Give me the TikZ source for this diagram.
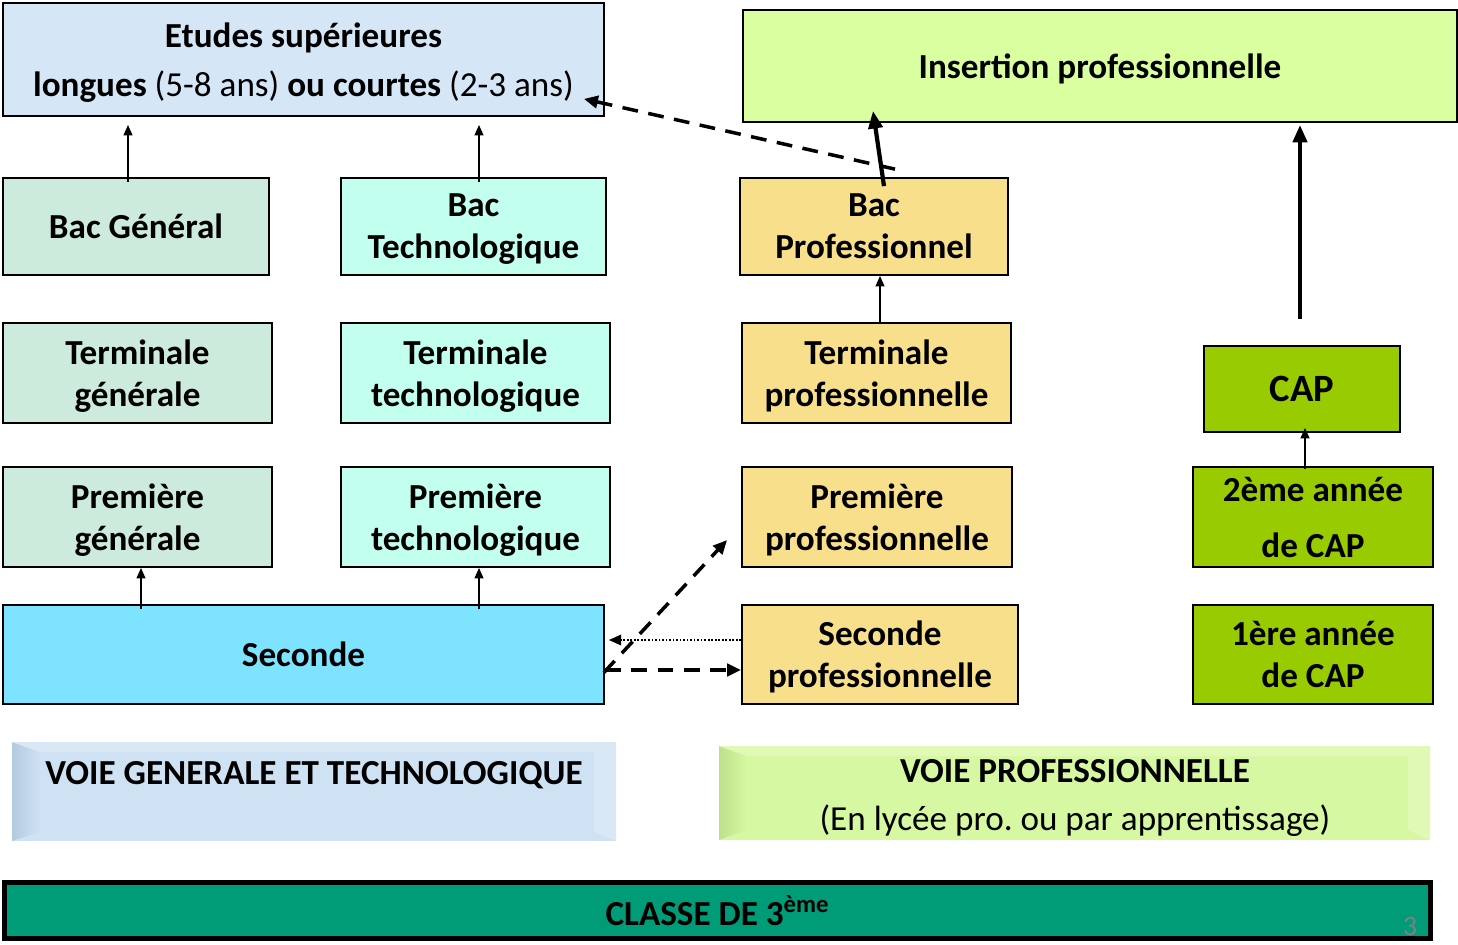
\documentclass[tikz,border=0pt]{standalone}
\usepackage{fontspec}
\setmainfont{Carlito}
\usetikzlibrary{arrows.meta,calc}

\definecolor{bleuetudes}{HTML}{D5E7F7}
\definecolor{vertinsertion}{HTML}{DAFFA0}
\definecolor{vertgen}{HTML}{CCEBDC}
\definecolor{turquoise}{HTML}{C3FFEF}
\definecolor{jaunepro}{HTML}{F8DF8B}
\definecolor{vertcap}{HTML}{99CC00}
\definecolor{bleuseconde}{HTML}{7DE3FF}
\definecolor{bleuvoie}{HTML}{CFE2F3}
\definecolor{bleuvoiegauche}{HTML}{B3CADF}
\definecolor{bleuvoiedroite}{HTML}{DAE8F5}
\definecolor{vertvoie}{HTML}{D6F8A2}
\definecolor{vertvoiegauche}{HTML}{BEE08C}
\definecolor{vertvoiedroite}{HTML}{E0FAB6}
\definecolor{vertclasse}{HTML}{009B77}

\tikzset{
	boite/.style={draw=black, line width=1pt, align=center, inner sep=0pt, text depth=0pt, font=\fontsize{20}{24}\selectfont\bfseries},
	taille/.style 2 args={minimum width=#1*0.02cm, minimum height=#2*0.02cm},
	fleche/.style={line width=1.1pt, -{Triangle[length=6pt,width=5pt]}},
	grosse/.style={line width=2.4pt, -{Triangle[length=10pt,width=8pt]}},
	tirets/.style={line width=2pt, dash pattern=on 9pt off 6pt, -{Triangle[length=8pt,width=7pt]}},
	pointilles/.style={line width=1.1pt, dash pattern=on 1pt off 1pt, -{Triangle[length=7pt,width=6pt]}},
}

\begin{document}
\begin{tikzpicture}[x=0.02cm, y=-0.02cm]
		%%%%% START %%%%%
		\useasboundingbox (0,0) rectangle (1458,944);
		
		\node[boite, taille={601}{113}, fill=bleuetudes, font=\fontsize{20}{28}\selectfont\bfseries] (etudes) at (303.5,59.5) {Etudes supérieures\\longues {\mdseries(5-8 ans)} ou courtes {\mdseries(2-3 ans)}};
		\node[boite, taille={714}{112}, fill=vertinsertion] (insertion) at (1100,66) {Insertion professionnelle};
		
		\node[boite, taille={266}{97}, fill=vertgen] (bacg) at (136,226.5) {Bac Général};
		\node[boite, taille={265}{97}, fill=turquoise] (bact) at (473.5,226.5) {Bac\\Technologique};
		\node[boite, taille={268}{97}, fill=jaunepro] (bacp) at (874,226.5) {Bac\\Professionnel};
		
		\node[boite, taille={269}{100}, fill=vertgen] (termg) at (137.5,373) {Terminale\\générale};
		\node[boite, taille={269}{100}, fill=turquoise] (termt) at (475.5,373) {Terminale\\technologique};
		\node[boite, taille={269}{100}, fill=jaunepro] (termp) at (876.5,373) {Terminale\\professionnelle};
		\node[boite, taille={196}{86}, fill=vertcap, font=\fontsize{22}{26}\selectfont\bfseries] (cap) at (1302,389) {CAP};
		
		\node[boite, taille={269}{100}, fill=vertgen] (premg) at (137.5,517) {Première\\générale};
		\node[boite, taille={269}{100}, fill=turquoise] (premt) at (475.5,517) {Première\\technologique};
		\node[boite, taille={270}{100}, fill=jaunepro] (premp) at (877,517) {Première\\professionnelle};
		\node[boite, taille={240}{100}, fill=vertcap, font=\fontsize{20}{32}\selectfont\bfseries] (capdeux) at (1313,517) {2ème année\\de CAP};
		
		\node[boite, taille={601}{99}, fill=bleuseconde] (seconde) at (303.5,654.5) {Seconde};
		\node[boite, taille={276}{99}, fill=jaunepro] (secp) at (880,654.5) {Seconde\\professionnelle};
		\node[boite, taille={240}{99}, fill=vertcap] (capun) at (1313,654.5) {1ère année\\de CAP};
		
		% bandeaux
		\fill[bleuvoie] (12,742) rectangle (616,841);
		\shade[left color=bleuvoiegauche, right color=bleuvoie] (12,742) -- (40,752) -- (40,832) -- (12,841) -- cycle;
		\fill[bleuvoiedroite] (616,742) -- (594,752) -- (594,832) -- (616,841) -- cycle;
		\fill[bleuvoiedroite] (12,742) -- (616,742) -- (594,752) -- (40,752) -- cycle;
		\node[font=\fontsize{20}{24}\selectfont\bfseries, anchor=base] (voieg) at (314,784) {VOIE GENERALE ET TECHNOLOGIQUE};
		
		\fill[vertvoie] (719,746) rectangle (1430,840);
		\shade[left color=vertvoiegauche, right color=vertvoie] (719,746) -- (747,756) -- (747,830) -- (719,840) -- cycle;
		\fill[vertvoiedroite] (1430,746) -- (1408,756) -- (1408,830) -- (1430,840) -- cycle;
		\fill[vertvoiedroite] (719,746) -- (1430,746) -- (1408,756) -- (747,756) -- cycle;
		\node[align=center, font=\fontsize{20}{27}\selectfont] (voiep) at (1075,798) {\textbf{VOIE PROFESSIONNELLE}\\(En lycée pro.\ ou par apprentissage)};
		
		\node[draw=black, line width=2.8pt, fill=vertclasse, taille={1426}{56}, inner sep=0pt, font=\fontsize{20}{24}\selectfont\bfseries] (classe) at (717.5,910.5) {CLASSE DE 3\textsuperscript{ème}};
		\node[text=gray, font=\fontsize{16}{16}\selectfont] (page) at (1410,926) {3};
		
		% fleches
		\draw[fleche, shorten >=0.16cm] ($(bacg.north)+(-8,5)$) coordinate (a1) -- (a1 |- etudes.south);
		\draw[fleche, shorten >=0.16cm] ($(bact.north)+(5.5,5)$) coordinate (a2) -- (a2 |- etudes.south);
		\draw[tirets] ($(bacp.north)+(21,-8)$) -- ($(etudes.south east)+(-21,-18)$);
		\draw[grosse] ($(bacp.north)+(10,9)$) -- ($(bacp.north |- insertion.south)+(-1,-12)$);
		\draw[fleche] ($(termp.north)+(3.5,0)$) coordinate (a3) -- (a3 |- bacp.south);
		\draw[grosse, shorten >=0.04cm] ($(cap.north)+(-2,-26)$) coordinate (a4) -- (a4 |- insertion.south);
		\draw[fleche, shorten >=-0.1cm] ($(capdeux.north)+(-8,3)$) coordinate (a5) -- (a5 |- cap.south);
		
		\draw[fleche] ($(premg.south)+(3.5,0)$) coordinate (a6) ($(a6 |- seconde.north)+(0,5)$) -- (a6);
		\draw[fleche] ($(premt.south)+(3.5,0)$) coordinate (a7) ($(a7 |- seconde.north)+(0,5)$) -- (a7);
		\draw[pointilles, shorten >=0.08cm] ($(secp.west)+(0,-14.5)$) coordinate (a8) -- (a8 -| seconde.east);
		\draw[tirets] ($(seconde.east)+(0,15.5)$) coordinate (a9) -- (a9 -| secp.west);
		\draw[tirets] ($(seconde.east)+(-1,18)$) -- ($(premp.west)+(-14,23)$);
		
		%%%%% END %%%%%
\end{tikzpicture}
\end{document}
